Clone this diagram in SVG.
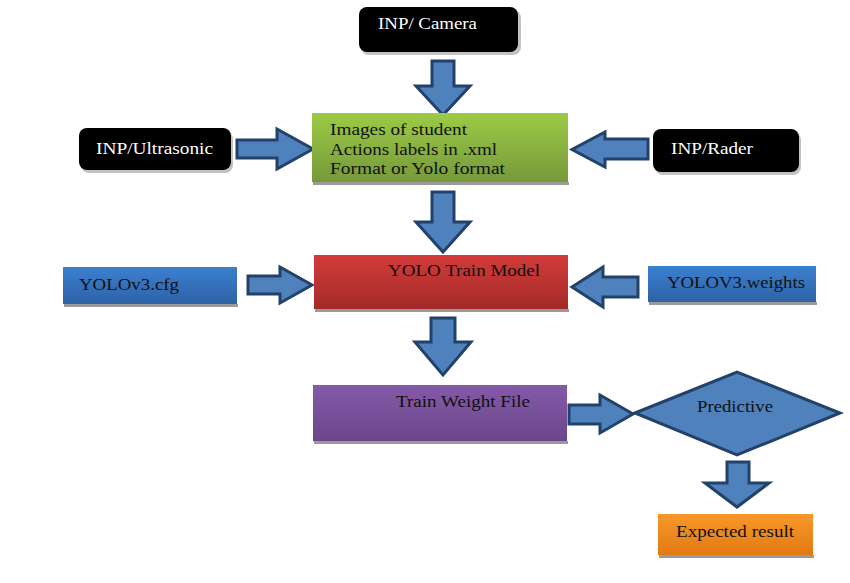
<svg xmlns="http://www.w3.org/2000/svg" width="850" height="583" viewBox="0 0 850 583">
<defs>
<linearGradient id="gGreen" x1="0" y1="0" x2="0" y2="1"><stop offset="0" stop-color="#9ccb45"/><stop offset="1" stop-color="#76993a"/></linearGradient>
<linearGradient id="gRed" x1="0" y1="0" x2="0" y2="1"><stop offset="0" stop-color="#d33b39"/><stop offset="1" stop-color="#a32b2a"/></linearGradient>
<linearGradient id="gBlue" x1="0" y1="0" x2="0" y2="1"><stop offset="0" stop-color="#3c80d0"/><stop offset="1" stop-color="#2d62a6"/></linearGradient>
<linearGradient id="gPurple" x1="0" y1="0" x2="0" y2="1"><stop offset="0" stop-color="#855aa9"/><stop offset="1" stop-color="#6a468b"/></linearGradient>
<linearGradient id="gOrange" x1="0" y1="0" x2="0" y2="1"><stop offset="0" stop-color="#f9982a"/><stop offset="1" stop-color="#e17a12"/></linearGradient>
</defs>
<style>
text{font-family:"Liberation Serif","Times New Roman",serif;font-size:17.5px;fill:#111;}
.wt{fill:#ffffff;}
.blk{fill:#000;}
.shadow{fill:#9a9a9a;}
.arrow{fill:#4f81bd;stroke:#22426b;stroke-width:3;stroke-linejoin:miter;}
.dia{fill:#4f81bd;stroke:#22426b;stroke-width:3;}
</style>
<rect width="850" height="583" fill="#ffffff"/>

<g id="connectors">
<polygon class="arrow" points="432,61 454,61 454,86 470,86 443,115 416,86 432,86"/>
<polygon class="arrow" points="237,140 277,140 277,129 313,149 277,169 277,158 237,158"/>
<polygon class="arrow" points="648,139 605,139 605,132 572,149.5 605,167 605,159 648,159"/>
<polygon class="arrow" points="432,192 454,192 454,222 470,222 443,252 416,222 432,222"/>
<polygon class="arrow" points="248,276 280,276 280,267 312,285 280,303 280,294 248,294"/>
<polygon class="arrow" points="638,277 603,277 603,267 572,287 603,307 603,297 638,297"/>
<polygon class="arrow" points="431,318 455,318 455,342 471,342 443,375 415,342 431,342"/>
<polygon class="arrow" points="569,405 600,405 600,395 633,414 600,433 600,424 569,424"/>
<polygon class="arrow" points="727,462 749,462 749,483 769,483 737,507 705,483 727,483"/>
</g>

<g id="camera">
<rect class="shadow" x="361" y="10" width="160" height="45" rx="8" opacity="0.6"/>
<rect class="blk" x="359" y="7" width="159" height="45" rx="8"/>
<text class="wt" x="378" y="29" textLength="99" lengthAdjust="spacingAndGlyphs">INP/ Camera</text>
</g>

<g id="ultrasonic">
<rect class="shadow" x="81" y="131" width="152" height="42" rx="8" opacity="0.6"/>
<rect class="blk" x="79" y="128" width="152" height="42" rx="8"/>
<text class="wt" x="96" y="154" textLength="117" lengthAdjust="spacingAndGlyphs">INP/Ultrasonic</text>
</g>

<g id="rader">
<rect class="shadow" x="655" y="132" width="146" height="43" rx="8" opacity="0.6"/>
<rect class="blk" x="653" y="129" width="146" height="43" rx="8"/>
<text class="wt" x="671" y="154" textLength="82" lengthAdjust="spacingAndGlyphs">INP/Rader</text>
</g>

<g id="images">
<rect class="shadow" x="313" y="182" width="256" height="3"/>
<rect x="312" y="113" width="256" height="69" fill="url(#gGreen)"/>
<text x="330" y="135" textLength="137" lengthAdjust="spacingAndGlyphs">Images of student</text>
<text x="330" y="155" textLength="167" lengthAdjust="spacingAndGlyphs">Actions labels in .xml</text>
<text x="330" y="174" textLength="175" lengthAdjust="spacingAndGlyphs">Format or Yolo format</text>
</g>

<g id="train-model">
<rect class="shadow" x="315" y="309" width="254" height="3"/>
<rect x="314" y="255" width="254" height="54" fill="url(#gRed)"/>
<text x="388" y="276" textLength="152" lengthAdjust="spacingAndGlyphs">YOLO Train Model</text>
</g>

<g id="cfg">
<rect class="shadow" x="64" y="304" width="174" height="3"/>
<rect x="63" y="267" width="174" height="37" fill="url(#gBlue)"/>
<text x="79" y="290" textLength="100" lengthAdjust="spacingAndGlyphs">YOLOv3.cfg</text>
</g>

<g id="weights">
<rect class="shadow" x="649" y="302" width="168" height="3"/>
<rect x="648" y="266" width="168" height="36" fill="url(#gBlue)"/>
<text x="667" y="288" textLength="138" lengthAdjust="spacingAndGlyphs">YOLOV3.weights</text>
</g>

<g id="weight-file">
<rect class="shadow" x="314" y="441" width="254" height="3"/>
<rect x="313" y="385" width="254" height="56" fill="url(#gPurple)"/>
<text x="396" y="407" textLength="134" lengthAdjust="spacingAndGlyphs">Train Weight File</text>
</g>

<g id="predictive">
<polygon class="dia" points="635,413 737,372 840,413 737,455"/>
<text x="697" y="412" textLength="76" lengthAdjust="spacingAndGlyphs">Predictive</text>
</g>

<g id="expected">
<rect class="shadow" x="659" y="555" width="155" height="3"/>
<rect x="658" y="514" width="155" height="41" fill="url(#gOrange)"/>
<text x="676" y="537" textLength="118" lengthAdjust="spacingAndGlyphs">Expected result</text>
</g>
</svg>
